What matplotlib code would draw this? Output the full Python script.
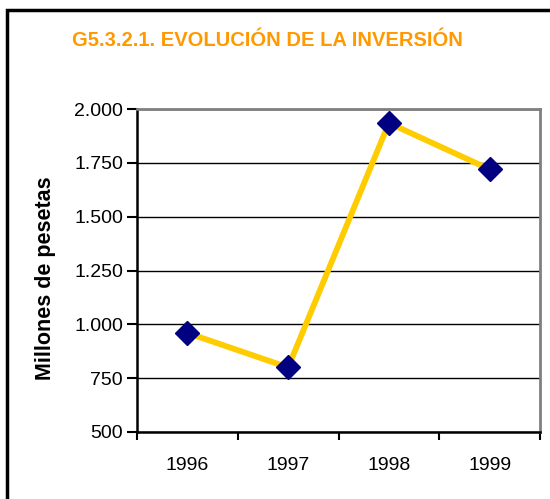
import matplotlib
matplotlib.use("Agg")
import matplotlib.pyplot as plt
from matplotlib.patches import Rectangle
from matplotlib.ticker import FuncFormatter, FixedLocator

years = ["1996", "1997", "1998", "1999"]
values = [960, 800, 1935, 1720]
yticks = [500, 750, 1000, 1250, 1500, 1750, 2000]

plt.rcParams['font.family'] = ['Liberation Sans', 'DejaVu Sans']

fig = plt.figure(figsize=(5.5, 4.99), dpi=100)
W, H = 550, 499
ax = fig.add_axes([137 / W, 1 - 432 / H, (540 - 137) / W, (432 - 109) / H])

x = list(range(len(years)))
ax.plot(x, values, color="#FFCC00", lw=4.2, zorder=3, solid_capstyle='butt')
ax.plot(x, values, linestyle='none', marker='D', markersize=12.5,
        markerfacecolor="#000080", markeredgecolor="#000080", zorder=4)

ax.set_xlim(-0.5, 3.5)
ax.set_ylim(500, 2000)
ax.set_yticks(yticks)
ax.yaxis.set_major_formatter(FuncFormatter(lambda v, p: f"{int(v):,}".replace(",", ".")))
ax.set_xticks(x)
ax.set_xticklabels(years)
ax.xaxis.set_minor_locator(FixedLocator([-0.5, 0.5, 1.5, 2.5, 3.5]))
ax.tick_params(axis='x', which='major', length=0, pad=18, labelsize=14)
ax.tick_params(axis='x', which='minor', length=6, width=1.5, direction='out', color='black')
ax.tick_params(axis='y', length=7, width=1.5, direction='out', labelsize=14, pad=3)

ax.grid(axis='y', color='black', lw=1)
ax.set_axisbelow(True)
for s in ['left', 'bottom']:
    ax.spines[s].set_linewidth(1.8)
    ax.spines[s].set_color('black')
for s in ['top', 'right']:
    ax.spines[s].set_linewidth(2)
    ax.spines[s].set_color('#808080')

ax.set_ylabel("Millones de pesetas", fontsize=15.5, fontweight='bold')
ax.yaxis.set_label_coords(56 / W, 1 - 278 / H, transform=fig.transFigure)

fig.text(267 / W, 1 - 41 / H, "G5.3.2.1. EVOLUCIÓN DE LA INVERSIÓN", color="#FF9900",
         fontsize=14.5, fontweight='bold', ha='center', va='center')

fig.patches.append(Rectangle((7 / W, -0.1), 1.2, (1 - 10 / H) + 0.1, transform=fig.transFigure,
                             fill=False, edgecolor='black', lw=2.5))

fig.savefig("out.png", dpi=100)
